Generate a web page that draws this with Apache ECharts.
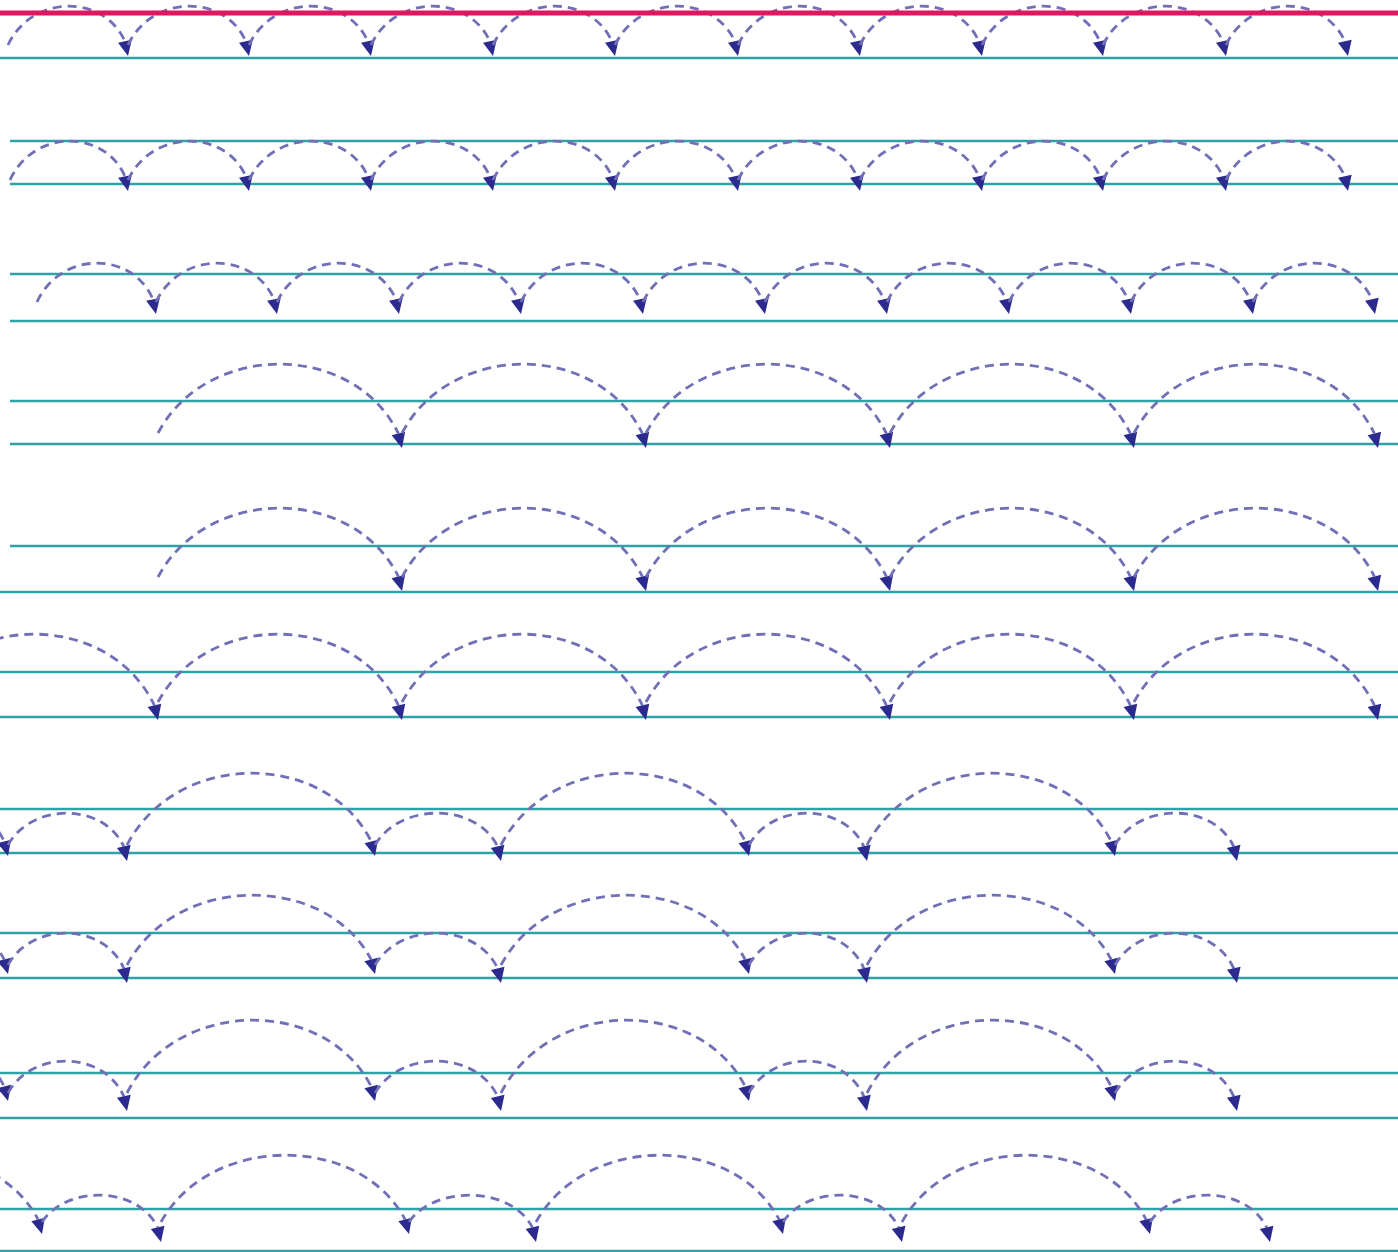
<!DOCTYPE html>
<html>
<head>
<meta charset="utf-8">
<script src="https://cdn.jsdelivr.net/npm/echarts@6/dist/echarts.min.js"></script>
<style>
html, body { margin: 0; padding: 0; background: #fff; }
#main { width: 1398px; height: 1252px; }
</style>
</head>
<body>
<div id="main"></div>
<script>
// guide lines of the worksheet
var pinkLineY = [13];
var tealLineY = [58, 141, 184, 274, 321, 401, 444, 546, 592, 672, 717, 809, 853, 933, 978, 1073, 1118, 1209, 1251];
var tealLineStartX = [0, 10, 10, 10, 10, 10, 10, 10, 0, 0, 0, 0, 0, 0, 0, 0, 0, 0, 0];

// jump points on each row (arcs go from one point to the next)
var row1Hops = [8, 128, 249, 371, 493, 615, 738, 860, 982, 1103, 1226, 1348];
var row2Hops = [10, 128, 249, 371, 493, 615, 738, 860, 982, 1103, 1226, 1348];
var row3Hops = [37, 156, 277, 399, 521, 643, 765, 887, 1009, 1131, 1253, 1375];
var row4Hops = [158, 402, 646, 890, 1134, 1378];
var row5Hops = [158, 402, 646, 890, 1134, 1378];
var row6Hops = [-86, 158, 402, 646, 890, 1134, 1378];
var row7Hops = [-240, 8, 127, 375, 501, 749, 867, 1115, 1237];
var row8Hops = [-240, 8, 127, 375, 501, 749, 867, 1115, 1237];
var row9Hops = [-240, 8, 127, 375, 501, 749, 867, 1115, 1237];
var row10Hops = [-206, 42, 161, 409, 536, 783, 902, 1150, 1270];

var rowHops = [row1Hops, row2Hops, row3Hops, row4Hops, row5Hops, row6Hops, row7Hops, row8Hops, row9Hops, row10Hops];
// where arcs leave from, where arrows land, how high arcs go (cycled big/small)
var rowStartY = [45, 180, 302, 433, 577, 702, 845, 965, 1093, 1222];
var rowEndY = [[56], [191], [314], [448], [591], [720], [856, 861], [974, 983], [1101, 1111], [1234, 1242]];
var rowPeakY = [[8], [143], [265], [366], [510], [636], [775, 815], [897, 935], [1022, 1063], [1157, 1197]];

var arcData = [];
for (var r = 0; r < rowHops.length; r++) {
    var hops = rowHops[r];
    for (var i = 0; i < hops.length - 1; i++) {
        var ends = rowEndY[r], peaks = rowPeakY[r];
        arcData.push([hops[i], rowStartY[r], hops[i + 1], ends[i % ends.length], peaks[i % peaks.length]]);
    }
}
var tealData = tealLineY.map(function (y, i) { return [tealLineStartX[i], 1398, y]; });
var pinkData = pinkLineY.map(function (y) { return [0, 1398, y]; });

function guideRenderer(color, width) {
    return function (params, api) {
        var a = api.coord([api.value(0), api.value(2)]);
        var b = api.coord([api.value(1), api.value(2)]);
        return {
            type: 'line',
            shape: { x1: a[0], y1: a[1], x2: b[0], y2: b[1] },
            style: { stroke: color, lineWidth: width }
        };
    };
}

function renderArc(params, api) {
    var p0 = api.coord([api.value(0), api.value(1)]);
    var p1 = api.coord([api.value(2), api.value(3)]);
    var top = api.coord([0, api.value(4)])[1];
    var w = p1[0] - p0[0];
    var yc = (top - 0.125 * (p0[1] + p1[1])) / 0.75;
    var c1 = [p0[0] + 0.2 * w, yc];
    var c2 = [p1[0] - 0.2 * w, yc];
    // arrow heads in the sheet point more downward than the curve tangent
    var dx = (p1[0] - c2[0]) * 0.55, dy = p1[1] - c2[1];
    var len = Math.sqrt(dx * dx + dy * dy);
    var ux = dx / len, uy = dy / len;
    var L = 15, H = 7; // arrow head size
    var bx = p1[0] - ux * L, by = p1[1] - uy * L;
    return {
        type: 'group',
        children: [
            {
                type: 'bezierCurve',
                shape: { x1: p0[0], y1: p0[1], cpx1: c1[0], cpy1: c1[1], cpx2: c2[0], cpy2: c2[1], x2: bx, y2: by },
                style: { stroke: '#7170b6', lineWidth: 2.8, lineDash: [9, 6], fill: null }
            },
            {
                type: 'polygon',
                shape: { points: [[p1[0], p1[1]], [bx - uy * H, by + ux * H], [bx + uy * H, by - ux * H]] },
                style: { fill: '#2c2a8e' }
            }
        ]
    };
}

var chart = echarts.init(document.getElementById('main'));
chart.setOption({
    animation: false,
    backgroundColor: '#ffffff',
    grid: { left: 0, right: 0, top: 0, bottom: 0 },
    xAxis: { type: 'value', min: 0, max: 1398, show: false },
    yAxis: { type: 'value', min: 0, max: 1252, inverse: true, show: false },
    series: [
        {
            type: 'custom',
            name: 'teal',
            data: tealData,
            encode: { x: [0, 1], y: 2 },
            renderItem: guideRenderer('#2fa2a6', 2.6),
            silent: true
        },
        {
            type: 'custom',
            name: 'arcs',
            data: arcData,
            encode: { x: [0, 2], y: [1, 3, 4] },
            renderItem: renderArc,
            silent: true
        },
        {
            type: 'custom',
            name: 'pink',
            data: pinkData,
            encode: { x: [0, 1], y: 2 },
            renderItem: guideRenderer('#e0175f', 5),
            silent: true
        }
    ]
});
</script>
</body>
</html>
